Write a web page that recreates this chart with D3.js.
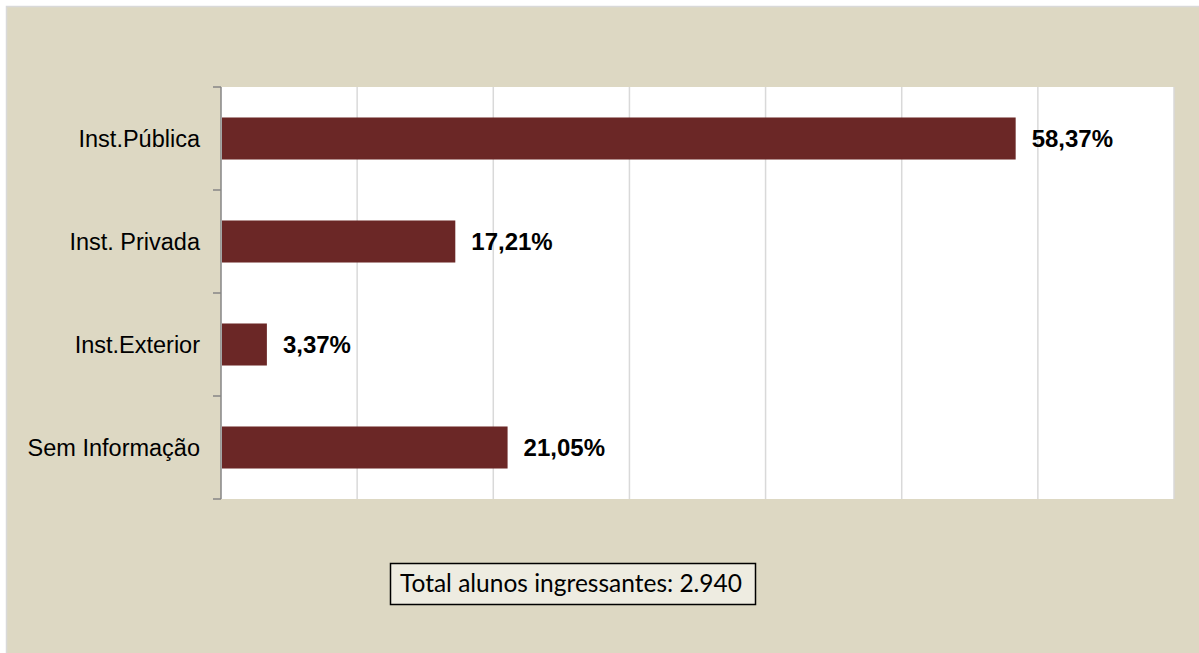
<!DOCTYPE html>
<html>
<head>
<meta charset="utf-8">
<script src="https://cdn.jsdelivr.net/npm/d3@7/dist/d3.min.js"></script>
<style>
  html, body { margin: 0; padding: 0; background: #ffffff; }
  svg { display: block; }
</style>
</head>
<body>
<svg id="chart" width="1199" height="653"></svg>
<script>
const categories = ["Inst.Pública", "Inst. Privada", "Inst.Exterior", "Sem Informação"];
const values = [58.37, 17.21, 3.37, 21.05];
const valueLabels = ["58,37%", "17,21%", "3,37%", "21,05%"];
const gridTicks = [0, 10, 20, 30, 40, 50, 60, 70];
const totalText = "Total alunos ingressantes: 2.940";

const svg = d3.select("#chart");
const W = 1199, H = 653;

// outer background
svg.append("rect")
  .attr("x", 6.5).attr("y", 6.5)
  .attr("width", W).attr("height", H)
  .attr("fill", "#DDD8C3")
  .attr("stroke", "#D9D9D9").attr("stroke-width", 1.5);

const plot = { left: 221, right: 1174, top: 87, bottom: 499 };

const x = d3.scaleLinear().domain([0, 70]).range([plot.left, plot.right]);
const y = d3.scaleBand().domain(categories)
  .range([plot.top, plot.bottom])
  .paddingInner(0.592).paddingOuter(0.296);

// plot area
svg.append("rect")
  .attr("x", plot.left).attr("y", plot.top)
  .attr("width", plot.right - plot.left).attr("height", plot.bottom - plot.top)
  .attr("fill", "#ffffff");

// gridlines
svg.append("g").selectAll("line")
  .data(gridTicks.slice(1))
  .join("line")
  .attr("x1", d => x(d)).attr("x2", d => x(d))
  .attr("y1", plot.top).attr("y2", plot.bottom)
  .attr("stroke", "#D9D9D9").attr("stroke-width", 1.5);

// bars
svg.append("g").selectAll("rect")
  .data(categories)
  .join("rect")
  .attr("x", x(0) + 1)
  .attr("y", (d) => y(d))
  .attr("width", (d, i) => x(values[i]) - x(0) - 1)
  .attr("height", y.bandwidth())
  .attr("fill", "#6B2726");

// value labels
svg.append("g").selectAll("text")
  .data(categories)
  .join("text")
  .attr("x", (d, i) => x(values[i]) + 16)
  .attr("y", d => y(d) + y.bandwidth() / 2 + 8.6)
  .attr("font-family", "Arial, 'Liberation Sans', sans-serif")
  .attr("font-size", 24)
  .attr("font-weight", "bold")
  .attr("fill", "#000")
  .text((d, i) => valueLabels[i]);

// vertical axis with outward ticks at band boundaries
const boundaries = categories.map(c => y(c) - (y.step() - y.bandwidth()) / 2).concat([plot.bottom]);
const axisG = svg.append("g");
axisG.append("line")
  .attr("x1", plot.left).attr("x2", plot.left)
  .attr("y1", plot.top).attr("y2", plot.bottom)
  .attr("stroke", "#868686").attr("stroke-width", 1.5);
axisG.selectAll("line.tick")
  .data(boundaries)
  .join("line")
  .attr("class", "tick")
  .attr("x1", plot.left - 8).attr("x2", plot.left)
  .attr("y1", d => d).attr("y2", d => d)
  .attr("stroke", "#868686").attr("stroke-width", 1.5);

// category labels
svg.append("g").selectAll("text")
  .data(categories)
  .join("text")
  .attr("x", 200)
  .attr("y", d => y(d) + y.bandwidth() / 2 + 8.4)
  .attr("text-anchor", "end")
  .attr("font-family", "Arial, 'Liberation Sans', sans-serif")
  .attr("font-size", 23.5)
  .attr("fill", "#000")
  .text(d => d);

// total box
svg.append("rect")
  .attr("x", 390.5).attr("y", 563.5)
  .attr("width", 365).attr("height", 41)
  .attr("fill", "#EEECE1")
  .attr("stroke", "#000").attr("stroke-width", 1.5);
const tt = svg.append("text")
  .attr("x", 400).attr("y", 592)
  .attr("font-family", "Lato, 'Open Sans', sans-serif")
  .attr("font-size", 25)
  .attr("fill", "#000")
  .text(totalText);
const len = tt.node().getComputedTextLength();
if (Math.abs(len - 342) > 4) {
  tt.attr("textLength", 342).attr("lengthAdjust", "spacingAndGlyphs");
}
</script>
</body>
</html>
